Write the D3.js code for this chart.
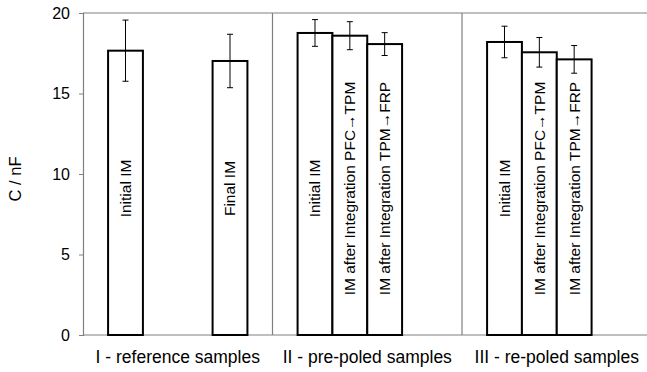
<!DOCTYPE html>
<html>
<head>
<meta charset="utf-8">
<script src="https://cdn.jsdelivr.net/npm/d3@7"></script>
<style>
  body { margin: 0; background: #fff; }
  svg { display: block; font-family: "Liberation Sans", Arial, sans-serif; }
</style>
</head>
<body>
<div id="CapPlot"></div>
<script>
// data
const groupNames = ["I - reference samples", "II - pre-poled samples", "III - re-poled samples"];
const slots = [0, 1, 2, 3];
const barLabels = [
  ["Initial IM", null, null, "Final IM"],
  ["Initial IM", "IM after Integration PFC\u2192TPM", "IM after Integration TPM\u2192FRP"],
  ["Initial IM", "IM after Integration PFC\u2192TPM", "IM after Integration TPM\u2192FRP"]
];
const means = [
  [17.66, null, null, 17.02],
  [18.76, 18.59, 18.07],
  [18.2, 17.56, 17.12]
];
const errs = [
  [1.9, null, null, 1.66],
  [0.83, 0.87, 0.71],
  [0.98, 0.92, 0.86]
];
const yTicks = [0, 5, 10, 15, 20];
const yLabel = "C / nF";

// plot config
let plotName = "CapPlot";
let width = 647, height = 372;
let plotLeft = 83, plotTop = 13, plotBottom = 335;
let groupWidth = 189.5;
let frameColor = "#808080";

let svg = d3.select("#" + plotName)
  .append("svg")
  .attr("width", width)
  .attr("height", height);

let x = d3.scaleBand().domain(groupNames).range([plotLeft, plotLeft + groupWidth * groupNames.length]);
let xs = d3.scaleBand().domain(slots).range([0, x.bandwidth()]).paddingInner(0).paddingOuter(0.72);
let y = d3.scaleLinear().domain([0, 20]).range([plotBottom, plotTop]);

// flatten into bars, skipping empty slots
let data = [];
groupNames.forEach((g, gi) => {
  means[gi].forEach((m, si) => {
    if (m === null) return;
    data.push({ group: g, slot: si, mean: m, err: errs[gi][si], label: barLabels[gi][si] });
  });
});

// frame: top line and group separators
svg.append("line")
  .attr("x1", plotLeft).attr("x2", width)
  .attr("y1", y(20)).attr("y2", y(20))
  .style("stroke", frameColor).style("stroke-width", 1.2);

svg.selectAll("." + plotName + "_sep")
  .data(groupNames.slice(1))
  .enter()
  .append("line")
  .attr("class", plotName + "_sep")
  .attr("x1", d => x(d)).attr("x2", d => x(d))
  .attr("y1", y(20)).attr("y2", y(0))
  .style("stroke", frameColor).style("stroke-width", 1.2);

// x axis line
svg.append("line")
  .attr("x1", plotLeft).attr("x2", width)
  .attr("y1", y(0)).attr("y2", y(0))
  .style("stroke", frameColor).style("stroke-width", 1.2);

// y axis
let yAxis = d3.axisLeft(y).tickValues(yTicks).tickSize(4).tickPadding(9);
let yg = svg.append("g")
  .attr("transform", "translate(" + plotLeft + ",0)")
  .call(yAxis);
yg.select(".domain").style("stroke", frameColor).style("stroke-width", 1.2);
yg.selectAll(".tick line").style("stroke", frameColor);
yg.selectAll(".tick text")
  .style("font-size", "16px")
  .style("font-family", "'Liberation Sans', Arial, sans-serif")
  .style("fill", "#000");

svg.append("text")
  .attr("transform", "rotate(-90)")
  .attr("x", -179)
  .attr("y", 15)
  .attr("dy", "0.35em")
  .style("text-anchor", "middle")
  .style("font-size", "16.5px")
  .text(yLabel);

// bars
let bx = d => x(d.group) + xs(d.slot);
let bw = xs.bandwidth();

svg.selectAll("." + plotName + "_bar")
  .data(data)
  .enter()
  .append("rect")
  .attr("class", plotName + "_bar")
  .attr("x", bx)
  .attr("y", d => y(d.mean))
  .attr("width", bw)
  .attr("height", d => y(0) - y(d.mean))
  .style("fill", "#fff")
  .style("stroke", "#000")
  .style("stroke-width", 2);

// error bars
let err = svg.selectAll("." + plotName + "_err")
  .data(data)
  .enter()
  .append("g")
  .attr("class", plotName + "_err")
  .style("stroke", "#000")
  .style("stroke-width", 1);

err.append("line")
  .attr("x1", d => bx(d) + bw / 2).attr("x2", d => bx(d) + bw / 2)
  .attr("y1", d => y(d.mean + d.err)).attr("y2", d => y(d.mean - d.err));
err.append("line")
  .attr("x1", d => bx(d) + bw / 2 - 3).attr("x2", d => bx(d) + bw / 2 + 3)
  .attr("y1", d => y(d.mean + d.err)).attr("y2", d => y(d.mean + d.err));
err.append("line")
  .attr("x1", d => bx(d) + bw / 2 - 3).attr("x2", d => bx(d) + bw / 2 + 3)
  .attr("y1", d => y(d.mean - d.err)).attr("y2", d => y(d.mean - d.err));

// labels inside bars
let labelY = y(9.1);
svg.selectAll("." + plotName + "_label")
  .data(data)
  .enter()
  .append("text")
  .attr("class", plotName + "_label")
  .attr("transform", d => "translate(" + (bx(d) + bw / 2) + "," + labelY + ") rotate(-90)")
  .attr("dy", "0.35em")
  .style("text-anchor", "middle")
  .style("font-size", "15.5px")
  .text(d => d.label);

// category labels
svg.selectAll("." + plotName + "_cat")
  .data(groupNames)
  .enter()
  .append("text")
  .attr("class", plotName + "_cat")
  .attr("x", d => x(d) + x.bandwidth() / 2)
  .attr("y", 363)
  .style("text-anchor", "middle")
  .style("font-size", "17.5px")
  .text(d => d);
</script>
</body>
</html>
